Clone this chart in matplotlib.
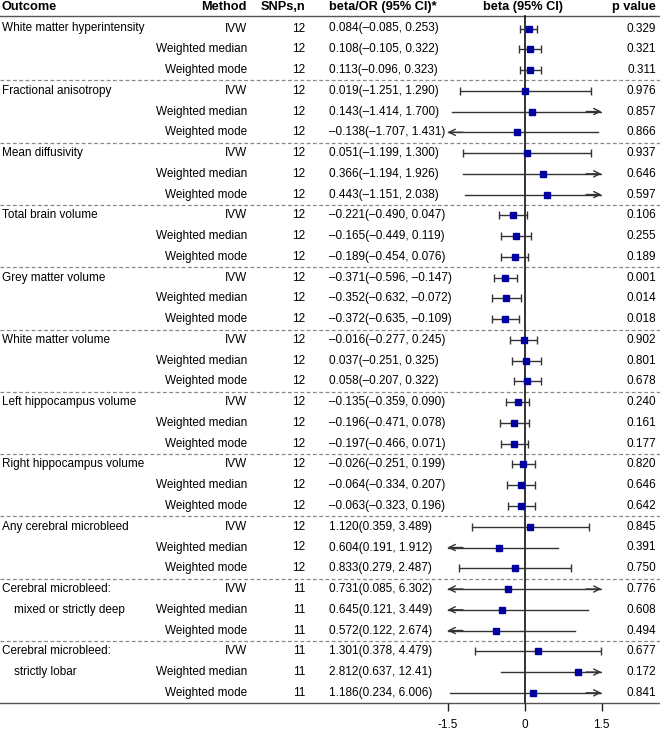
import numpy as np
import matplotlib
matplotlib.use("Agg")
import matplotlib.pyplot as plt

plt.rcParams['font.family'] = ['Liberation Sans', 'DejaVu Sans']

# outcome groups (second label line is indented under the first)
outcomes = ["White matter hyperintensity", "Fractional anisotropy", "Mean diffusivity",
            "Total brain volume", "Grey matter volume", "White matter volume",
            "Left hippocampus volume", "Right hippocampus volume", "Any cerebral microbleed",
            "Cerebral microbleed:\nmixed or strictly deep", "Cerebral microbleed:\nstrictly lobar"]
is_or = [False] * 8 + [True] * 3
methods = ["IVW", "Weighted median", "Weighted mode"]
snps = [12] * 27 + [11] * 6

est = [0.084, 0.108, 0.113,
       0.019, 0.143, -0.138,
       0.051, 0.366, 0.443,
       -0.221, -0.165, -0.189,
       -0.371, -0.352, -0.372,
       -0.016, 0.037, 0.058,
       -0.135, -0.196, -0.197,
       -0.026, -0.064, -0.063,
       1.120, 0.604, 0.833,
       0.731, 0.645, 0.572,
       1.301, 2.812, 1.186]
lo = [-0.085, -0.105, -0.096,
      -1.251, -1.414, -1.707,
      -1.199, -1.194, -1.151,
      -0.490, -0.449, -0.454,
      -0.596, -0.632, -0.635,
      -0.277, -0.251, -0.207,
      -0.359, -0.471, -0.466,
      -0.251, -0.334, -0.323,
      0.359, 0.191, 0.279,
      0.085, 0.121, 0.122,
      0.378, 0.637, 0.234]
hi = [0.253, 0.322, 0.323,
      1.290, 1.700, 1.431,
      1.300, 1.926, 2.038,
      0.047, 0.119, 0.076,
      -0.147, -0.072, -0.109,
      0.245, 0.325, 0.322,
      0.090, 0.078, 0.071,
      0.199, 0.207, 0.196,
      3.489, 1.912, 2.487,
      6.302, 3.449, 2.674,
      4.479, 12.41, 6.006]
pvals = ["0.329", "0.321", "0.311", "0.976", "0.857", "0.866", "0.937", "0.646", "0.597",
         "0.106", "0.255", "0.189", "0.001", "0.014", "0.018", "0.902", "0.801", "0.678",
         "0.240", "0.161", "0.177", "0.820", "0.646", "0.642", "0.845", "0.391", "0.750",
         "0.776", "0.608", "0.494", "0.677", "0.172", "0.841"]
xticks = [-1.5, 0, 1.5]


def fmt(v):
    s = "%.3f" % v
    if v >= 10:
        s = "%.2f" % v
    return s.replace("-", "\u2013")


W, H = 660, 730
fig = plt.figure(figsize=(6.6, 7.3), dpi=100)
ax = fig.add_axes([0, 0, 1, 1])
ax.set_xlim(0, W)
ax.set_ylim(H, 0)
ax.axis("off")

y0, dy = 28.5, 20.76
top_line, bot_line = 15.5, 702.7
fs = 8.5
rows_y = y0 + dy * np.arange(len(est))

# header
hy = 7
hdr = dict(fontsize=9.2, fontweight="bold", va="center")
ax.text(2, hy, "Outcome", ha="left", **hdr)
ax.text(247, hy, "Method", ha="right", **hdr)
ax.text(305, hy, "SNPs,n", ha="right", **hdr)
ax.text(329, hy, "beta/OR (95% CI)*", ha="left", **hdr)
ax.text(523, hy, "beta (95% CI)", ha="center", **hdr)
ax.text(656, hy, "p value", ha="right", **hdr)

ax.plot([0, W], [top_line, top_line], color="#555555", lw=1)
ax.plot([0, W], [bot_line, bot_line], color="#555555", lw=1)

for i, y in enumerate(rows_y):
    g = i // 3
    m = i % 3
    if m == 0:
        for k, line in enumerate(outcomes[g].split("\n")):
            ax.text(2 + 12 * k, y + k * dy, line, fontsize=fs, va="center", ha="left")
    ax.text(247, y, methods[m], fontsize=fs, va="center", ha="right")
    ax.text(305, y, str(snps[i]), fontsize=fs, va="center", ha="right")
    ax.text(329, y, "%s(%s, %s)" % (fmt(est[i]), fmt(lo[i]), fmt(hi[i])),
            fontsize=fs, va="center", ha="left")
    ax.text(656, y, pvals[i], fontsize=fs, va="center", ha="right")
    if m == 2 and g < len(outcomes) - 1:
        yl = y + dy / 2
        ax.plot([0, W], [yl, yl], color="#888888", lw=0.9, ls=(0, (3, 2)))

# forest panel
x_left, x_right = 447.5, 601.5
ax2 = fig.add_axes([x_left / W, (H - bot_line) / H, (x_right - x_left) / W, bot_line / H])
ax2.set_xlim(-1.5, 1.5)
ax2.set_ylim(bot_line, 0)
ax2.patch.set_alpha(0)
for s in ["top", "left", "right", "bottom"]:
    ax2.spines[s].set_visible(False)
ax2.set_yticks([])
ax2.set_xticks(xticks)
ax2.set_xticklabels(["-1.5", "0", "1.5"], fontsize=fs)
ax2.tick_params(axis="x", direction="out", length=5.8, width=1, color="#222222", pad=6)

ax2.plot([0, 0], [top_line, bot_line], color="#111111", lw=1.2, zorder=1)

arrow = dict(arrowstyle="->,head_length=0.45,head_width=0.22",
             color="#333333", lw=1, shrinkA=0, shrinkB=0)
for i, y in enumerate(rows_y):
    g = i // 3
    if is_or[g]:
        e, l, h = np.log(est[i]), np.log(lo[i]), np.log(hi[i])
    else:
        e, l, h = est[i], lo[i], hi[i]
    clip_l = l < -1.5
    clip_h = h > 1.5
    if clip_l or clip_h:
        ax2.plot([max(l, -1.5), min(h, 1.5)], [y, y], color="#333333", lw=1, zorder=2)
        if clip_l:
            ax2.annotate("", xy=(-1.5, y), xytext=(-1.2, y), arrowprops=arrow)
        if clip_h:
            ax2.annotate("", xy=(1.5, y), xytext=(1.2, y), arrowprops=arrow)
    else:
        ax2.errorbar([e], [y], xerr=[[e - l], [h - e]], fmt="none", ecolor="#333333",
                     elinewidth=1, capsize=3, capthick=1, zorder=2)
    ax2.plot([e], [y], marker="s", ms=3.8, color="#0000A0", mec="#0000A0", zorder=3)

fig.savefig("out.png", dpi=100)
